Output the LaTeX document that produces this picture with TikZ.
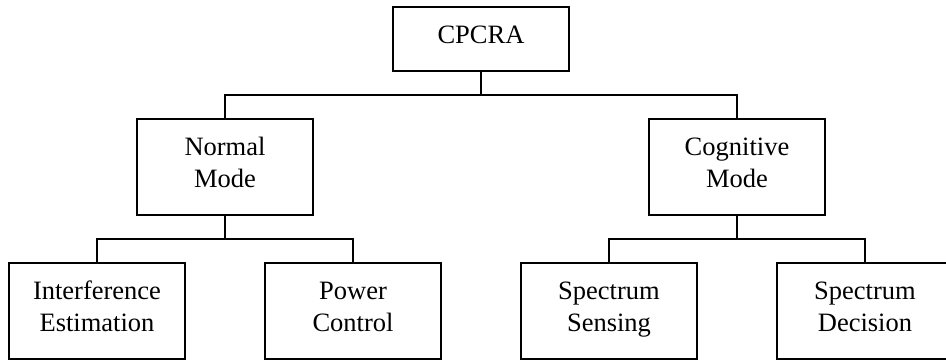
\documentclass[tikz,border=0pt]{standalone}
\usepackage{fontspec}
\setmainfont{Liberation Serif}
\newcommand\ms{\rule[-11.5pt]{0pt}{32pt}}
\begin{document}
\begin{tikzpicture}[x=1pt,y=-1pt,
  box/.style={draw, line width=1.7pt, minimum width=176pt, inner sep=0pt, align=center,
    font=\fontsize{26.5}{32}\selectfont},
  conn/.style={line width=1.7pt}]
\useasboundingbox (0,0) rectangle (946,363);
\clip (0,0) rectangle (946,363);
\node[box, minimum height=64pt] (cp) at (481,39) {\ms CPCRA};
\node[box, minimum height=96pt] (nm) at (225,167) {\ms Normal\\\ms Mode};
\node[box, minimum height=96pt] (cm) at (737,167) {\ms Cognitive\\\ms Mode};
\node[box, minimum height=96pt] (ie) at (97,311) {\ms Interference\\\ms Estimation};
\node[box, minimum height=96pt] (pc) at (353,311) {\ms Power\\\ms Control};
\node[box, minimum height=96pt] (ss) at (609,311) {\ms Spectrum\\\ms Sensing};
\node[box, minimum height=96pt] (sd) at (865,311) {\ms Spectrum\\\ms Decision};
\coordinate (j0) at (481,95);
\coordinate (j1) at (225,239);
\coordinate (j2) at (737,239);
\draw[conn] (cp.south) -- (j0);
\draw[conn] (j0) -| (nm.north);
\draw[conn] (j0) -| (cm.north);
\draw[conn] (nm.south) -- (j1);
\draw[conn] (j1) -| (ie.north);
\draw[conn] (j1) -| (pc.north);
\draw[conn] (cm.south) -- (j2);
\draw[conn] (j2) -| (ss.north);
\draw[conn] (j2) -| (sd.north);
\end{tikzpicture}
\end{document}
